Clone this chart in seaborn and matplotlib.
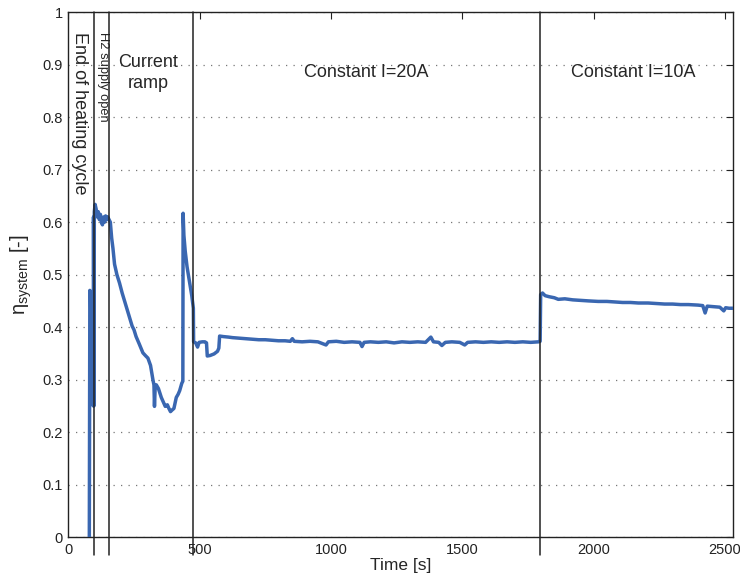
import matplotlib
matplotlib.use("Agg")
import matplotlib.pyplot as plt
import seaborn as sns
import pandas as pd

# ---- data (time [s], eta_system [-]) ----
t_startup = [80, 82, 85, 88, 95, 96, 98, 99, 102, 106]
e_startup = [0.00, 0.47, 0.46, 0.26, 0.25, 0.61, 0.25, 0.62, 0.634, 0.625]

t_h2open = [110, 114, 118, 122, 126, 130, 134, 138, 142, 146, 150, 155, 160]
e_h2open = [0.61, 0.62, 0.605, 0.615, 0.60, 0.595, 0.61, 0.60, 0.612, 0.605, 0.61, 0.605, 0.60]

t_ramp = [165, 170, 176, 185, 195, 205, 214, 226, 235, 243, 250, 258,
          270, 284, 295, 303, 313, 322, 326, 328, 331, 335, 343, 354,
          362, 369, 377, 383, 389, 395, 402, 411, 418, 424, 432, 436]
e_ramp = [0.57, 0.55, 0.52, 0.50, 0.484, 0.465, 0.45, 0.43, 0.415, 0.402, 0.395, 0.382,
          0.368, 0.351, 0.345, 0.341, 0.327, 0.30, 0.29, 0.249, 0.29, 0.29, 0.283, 0.266,
          0.257, 0.249, 0.252, 0.245, 0.239, 0.242, 0.245, 0.266, 0.272, 0.279, 0.293, 0.297]

t_spike = [437, 440, 445, 452, 462, 470, 476, 477, 485, 492, 498, 510, 520, 526, 529,
           540, 555, 568, 573, 576, 590]
e_spike = [0.617, 0.575, 0.545, 0.515, 0.484, 0.46, 0.436, 0.372, 0.370, 0.362, 0.371,
           0.372, 0.372, 0.370, 0.345, 0.346, 0.349, 0.354, 0.360, 0.383, 0.382]

t_20a = [610, 625, 650, 675, 700, 725, 750, 775, 800, 825, 845, 853, 860, 890, 920,
         950, 981, 990, 1020, 1050, 1080, 1110, 1118, 1126, 1150, 1180, 1210, 1240, 1270, 1300,
         1330, 1360, 1380, 1390, 1410, 1422, 1435, 1460, 1490, 1509, 1520, 1550, 1580, 1610, 1640,
         1670, 1700, 1730, 1760, 1790, 1796]
e_20a = [0.381, 0.380, 0.379, 0.378, 0.377, 0.376, 0.376, 0.375, 0.374, 0.374, 0.373, 0.378, 0.373, 0.372, 0.373,
         0.372, 0.366, 0.372, 0.373, 0.371, 0.372, 0.371, 0.363, 0.371, 0.372, 0.371, 0.372, 0.370, 0.372, 0.371,
         0.372, 0.371, 0.381, 0.372, 0.371, 0.365, 0.371, 0.372, 0.371, 0.366, 0.371, 0.372, 0.371, 0.372, 0.371,
         0.372, 0.371, 0.372, 0.371, 0.372, 0.373]

t_10a = [1798, 1805, 1815, 1830, 1850, 1865, 1890, 1920, 1950, 1980,
         2017, 2050, 2080, 2110, 2140, 2170, 2207, 2240, 2270, 2300,
         2330, 2360, 2397, 2415, 2424, 2432, 2455, 2480, 2495, 2502,
         2515, 2530]
e_10a = [0.462, 0.465, 0.460, 0.458, 0.456, 0.453, 0.454, 0.452, 0.451, 0.450,
         0.449, 0.449, 0.448, 0.447, 0.447, 0.446, 0.446, 0.445, 0.444, 0.444,
         0.443, 0.443, 0.442, 0.441, 0.427, 0.440, 0.439, 0.438, 0.431, 0.437,
         0.436, 0.436]

phase_bounds = [97, 156, 475, 1797]
phase_labels = ["End of heating cycle", "H2 supply open", "Current\nramp",
                "Constant I=20A", "Constant I=10A"]
x_ticks = [0, 500, 1000, 1500, 2000, 2500]
y_ticks = [0, 0.1, 0.2, 0.3, 0.4, 0.5, 0.6, 0.7, 0.8, 0.9, 1.0]
y_ticklabels = ["0", "0.1", "0.2", "0.3", "0.4", "0.5", "0.6", "0.7", "0.8", "0.9", "1"]

time_s = t_startup + t_h2open + t_ramp + t_spike + t_20a + t_10a
eta_system = e_startup + e_h2open + e_ramp + e_spike + e_20a + e_10a
df = pd.DataFrame({"Time [s]": time_s, "eta": eta_system})

sns.set_style("white")
plt.rcParams["font.family"] = ["Liberation Sans", "DejaVu Sans"]
plt.rcParams["mathtext.fontset"] = "custom"
plt.rcParams["mathtext.rm"] = "Liberation Sans"
plt.rcParams["mathtext.it"] = "Liberation Sans"

fig = plt.figure(figsize=(7.40, 5.81), dpi=100)
ax = fig.add_axes([0.0923, 0.0757, 0.8982, 0.9031])

sns.lineplot(data=df, x="Time [s]", y="eta", ax=ax, estimator=None, sort=False,
             color="#3a67b1", linewidth=2.5, zorder=3)

for xb in phase_bounds:
    ax.plot([xb, xb], [-0.035, 1.0], color="#222222", linewidth=1.1,
            clip_on=False, zorder=4)

ax.set_xlim(0, 2530)
ax.set_ylim(0, 1)
ax.set_xticks(x_ticks)
ax.set_yticks(y_ticks)
ax.set_yticklabels(y_ticklabels)
ax.tick_params(direction="in", length=5, width=0.8, top=True, right=True,
               labelsize=10.5, colors="#222222", pad=4)
ax.yaxis.grid(True, linestyle=(0, (1, 5)), color="#777777", linewidth=0.9)
ax.xaxis.grid(False)
for s in ax.spines.values():
    s.set_color("#222222")
    s.set_linewidth(1.0)

ax.set_xlabel("Time [s]", fontsize=12.5, labelpad=1)
ax.set_ylabel(r"$\mathregular{\eta_{system}}$ [-]", fontsize=14.5, labelpad=6)

ax.text(44, 0.962, phase_labels[0], rotation=270, ha="center", va="top", fontsize=13)
ax.text(131, 0.962, phase_labels[1], rotation=270, ha="center", va="top", fontsize=9.3)
ax.text(303, 0.884, phase_labels[2], ha="center", va="center", fontsize=13,
        linespacing=1.3)
ax.text(1136, 0.886, phase_labels[3], ha="center", va="center", fontsize=13)
ax.text(2149, 0.886, phase_labels[4], ha="center", va="center", fontsize=13)

fig.savefig("out.png", dpi=100)
